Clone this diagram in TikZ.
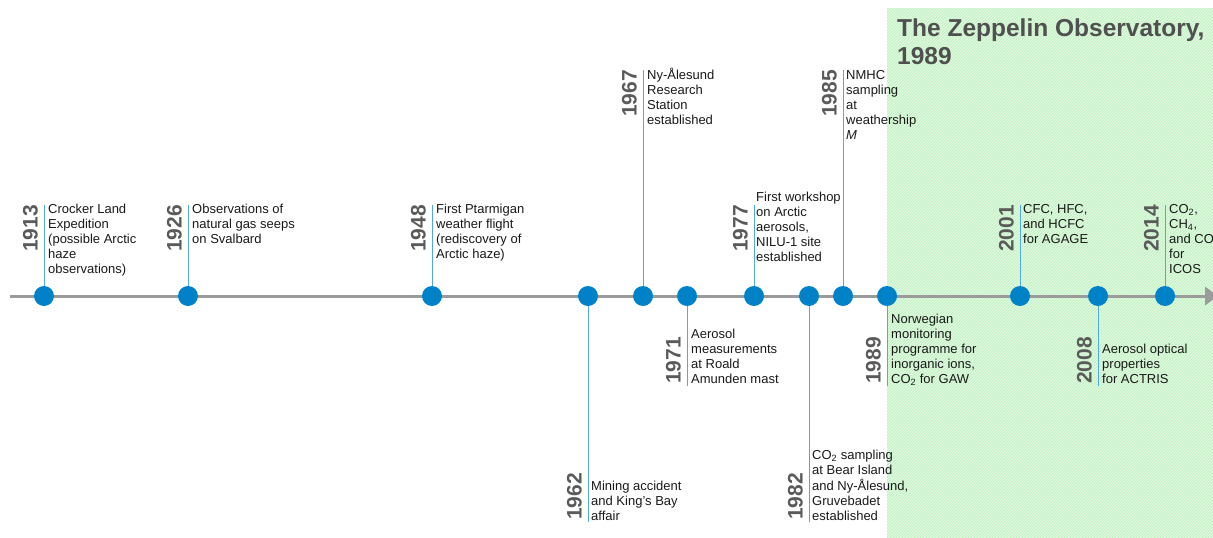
\documentclass[tikz,border=0pt]{standalone}
\usepackage{fontspec}
\setmainfont{Liberation Sans}
\usetikzlibrary{patterns,arrows.meta}
\definecolor{dotblue}{RGB}{0,130,200}
\definecolor{lineblue}{RGB}{80,170,225}
\definecolor{axisgray}{RGB}{155,155,155}
\definecolor{yeargray}{RGB}{90,90,90}
\definecolor{zgreen}{RGB}{198,243,198}
\definecolor{titlegray}{RGB}{80,80,80}
\pgfdeclarelayer{back}
\pgfsetlayers{back,main}
\newcommand\evlines[2]{\begin{tabular}[#1]{@{}l@{}}#2\end{tabular}}
\tikzset{
  evdot/.style={circle, fill=dotblue, minimum size=20pt, inner sep=0pt},
  yr/.style={rotate=90, inner sep=0pt, font=\fontsize{21}{24}\selectfont\bfseries, text=yeargray},
  yrup/.style={yr, anchor=south east},
  yrdown/.style={yr, anchor=south west},
  evtext/.style={inner sep=0pt, anchor=base west, font=\fontsize{13}{15}\selectfont, text=black!90},
  vline/.style={draw=lineblue, line width=1pt},
  axis/.style={draw=axisgray, line width=3pt, -{Triangle[length=13pt,width=18pt]}}
}
\begin{document}
\begin{tikzpicture}[x=1pt,y=-1pt]
\useasboundingbox (0,0) rectangle (1213,538);
\clip (0,0) rectangle (1213,538);
% green zone
\begin{pgfonlayer}{back}
\fill[zgreen] (887,8) rectangle (1213,538);
\fill[pattern=north east lines, pattern color=zgreen!30!white] (887,8) rectangle (1213,538);
\end{pgfonlayer}
\node[inner sep=0pt, anchor=base west, font=\fontsize{24.5}{28}\selectfont\bfseries, text=titlegray] (title) at (897,36)
  {\begin{tabular}[t]{@{}l@{}}The Zeppelin Observatory,\\1989\end{tabular}};

% axis
\coordinate (axstart) at (10,296);
\coordinate (axend) at (1218,296);
\begin{pgfonlayer}{back}
\draw[axis] (axstart) -- (axend);
\end{pgfonlayer}

% dots
\foreach \yy/\xx in {1913/44,1926/188,1948/432,1962/588,1967/643,1971/687,1977/754,1982/809,1985/843,1989/887,2001/1020,2008/1098,2014/1165}
  \node[evdot] (d\yy) at (\xx,296) {};

% events above the axis
\foreach \yy/\xx/\tt in {1913/44/205,1926/188/205,1948/432/205,1967/643/70,1977/754/205,1985/843/70,2001/1020/205,2014/1165/205}{
  \coordinate (e\yy) at (\xx,\tt);
  \begin{pgfonlayer}{back}\draw[vline] (d\yy.center) -- (e\yy);\end{pgfonlayer}
  \node[yrup] (y\yy) at (\xx-6,\tt) {\yy};
}
% events below the axis
\foreach \yy/\xx/\bb in {1962/588/522,1971/687/386,1982/809/522,1989/887/386,2008/1098/386}{
  \coordinate (e\yy) at (\xx,\bb);
  \begin{pgfonlayer}{back}\draw[vline] (d\yy.center) -- (e\yy);\end{pgfonlayer}
  \node[yrdown] (y\yy) at (\xx-6,\bb-2) {\yy};
}

% texts above
\node[evtext] (t1913) at (48,213) {\evlines{t}{Crocker Land\\Expedition\\(possible Arctic\\haze\\observations)}};
\node[evtext] (t1926) at (192,213) {\evlines{t}{Observations of\\natural gas seeps\\on Svalbard}};
\node[evtext] (t1948) at (436,213) {\evlines{t}{First Ptarmigan\\weather flight\\(rediscovery of\\Arctic haze)}};
\node[evtext] (t1967) at (647,79) {\evlines{t}{Ny-Ålesund\\Research\\Station\\established}};
\node[evtext] (t1977) at (756,201) {\evlines{t}{First workshop\\on Arctic\\aerosols,\\NILU-1 site\\established}};
\node[evtext] (t1985) at (846,79) {\evlines{t}{NMHC\\sampling\\at\\weathership\\\textit{M}}};
\node[evtext] (t2001) at (1023,213) {\evlines{t}{CFC, HFC,\\and HCFC\\for AGAGE}};
\node[evtext] (t2014) at (1169,213) {\evlines{t}{CO\textsubscript{2},\\CH\textsubscript{4},\\and CO\\for\\ICOS}};

% texts below
\node[evtext] (t1962) at (591,520) {\evlines{b}{Mining accident\\and King's Bay\\affair}};
\node[evtext] (t1971) at (691,383) {\evlines{b}{Aerosol\\measurements\\at Roald\\Amunden mast}};
\node[evtext] (t1982) at (812,520) {\evlines{b}{CO\textsubscript{2} sampling\\at Bear Island\\and Ny-Ålesund,\\Gruvebadet\\established}};
\node[evtext] (t1989) at (891,383) {\evlines{b}{Norwegian\\monitoring\\programme for\\inorganic ions,\\CO\textsubscript{2} for GAW}};
\node[evtext] (t2008) at (1102,383) {\evlines{b}{Aerosol optical\\properties\\for ACTRIS}};
\end{tikzpicture}
\end{document}
